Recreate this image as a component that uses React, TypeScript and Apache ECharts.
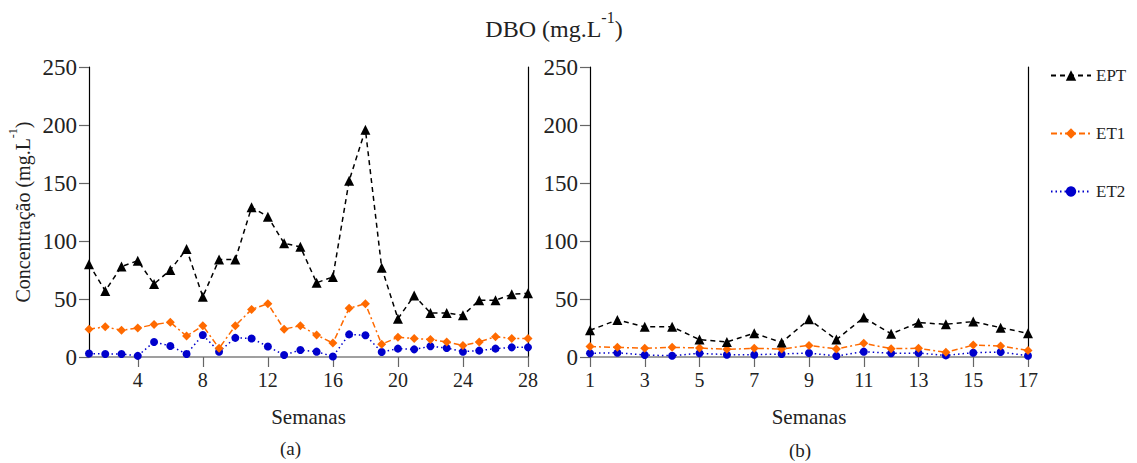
import React, { useEffect, useRef } from "react";
import * as echarts from "echarts";

const weeksA = Array.from({ length: 28 }, (_, i) => i + 1);
const weeksB = Array.from({ length: 17 }, (_, i) => i + 1);

const eptA = [80, 57, 78, 83, 63, 75, 93, 52, 84, 84, 129, 121, 98, 95, 64, 69, 152, 196, 77, 33, 53, 38, 38, 36, 49, 49, 54, 55];
const et1A = [24, 26, 23, 25, 28, 30, 18, 27, 7.5, 27, 41, 46, 24, 27, 19, 12, 42, 46, 11, 17, 16, 15, 13, 10, 13, 17.5, 16, 16];
const et2A = [3, 2.6, 2.6, 1, 13, 9.5, 2.6, 19, 4.6, 16.5, 16, 9, 1.7, 6, 4.6, 0.5, 19.5, 18.7, 4.3, 7.2, 6.6, 9.2, 7.8, 4.6, 5.5, 7.2, 8.3, 8.3];

const eptB = [23, 32, 26, 26, 15, 13, 20.5, 12.5, 32.5, 15, 34, 20, 29.6, 28.2, 30.5, 25.3, 20.4];
const et1B = [9, 8.3, 7.5, 8.3, 7.8, 6.6, 7.5, 6.9, 10, 6.9, 11.8, 7.2, 7.5, 4, 10.3, 9.5, 5.7];
const et2B = [3.2, 3.7, 1.7, 1.1, 3.2, 2, 2, 2.6, 3.4, 0.9, 4.6, 3.2, 3.4, 1.4, 3.7, 4.3, 1.1];

const xTicksA = [4, 8, 12, 16, 20, 24, 28];
const yMax = 250;
const yStep = 50;

const FONT = "Liberation Serif";

export default function App() {
  const ref = useRef<HTMLDivElement>(null);
  useEffect(() => {
    const chart = echarts.init(ref.current!, null, { renderer: "svg" });
    const styles = {
      EPT: { color: "#000000", symbol: "triangle", symbolSize: 10, dash: [5, 4] },
      ET1: { color: "#ff6a00", symbol: "diamond", symbolSize: 9, dash: [6, 3, 2, 3] },
      ET2: { color: "#0000cc", symbol: "circle", symbolSize: 8, dash: [1.5, 3] },
    } as any;
    const mk = (name: string, xs: number[], ys: number[], idx: number) => ({
      name,
      type: "line",
      xAxisIndex: idx,
      yAxisIndex: idx * 2,
      data: xs.map((x, i) => [x, ys[i]]),
      symbol: styles[name].symbol,
      symbolSize: styles[name].symbolSize,
      itemStyle: { color: styles[name].color },
      lineStyle: { color: styles[name].color, width: 1.5, type: styles[name].dash },
      z: name === "EPT" ? 5 : name === "ET1" ? 4 : 3,
    });
    const yAxisBase = (gi: number) => ({
      type: "value",
      gridIndex: gi,
      min: 0,
      max: yMax,
      interval: yStep,
      axisLine: { show: true, lineStyle: { color: "#000", width: 1.2 } },
      axisTick: { show: true, length: 10, lineStyle: { color: "#666", width: 1.2 } },
      axisLabel: { fontFamily: FONT, fontSize: 23, color: "#222", margin: 12 },
      splitLine: { show: false },
    });
    const yRight = (gi: number) => ({
      type: "value",
      gridIndex: gi,
      position: "right",
      min: 0,
      max: yMax,
      interval: yStep,
      axisLine: { show: true, lineStyle: { color: "#000", width: 1.2 } },
      axisTick: { show: false },
      axisLabel: { show: false },
      splitLine: { show: false },
    });
    const xName = {
      name: "Semanas",
      nameLocation: "middle",
      nameGap: 49,
      nameTextStyle: { fontFamily: FONT, fontSize: 21, color: "#222" },
    };
    chart.setOption({
      animation: false,
      backgroundColor: "#fff",
      title: {
        text: "{a|DBO (mg.L}{s|-1}{a|)}",
        left: 549,
        textAlign: "center",
        top: 4,
        textStyle: {
          fontWeight: "normal",
          rich: {
            a: { fontFamily: FONT, fontSize: 24, fontWeight: "normal", color: "#222", verticalAlign: "bottom", lineHeight: 32 },
            s: { fontFamily: FONT, fontSize: 16, fontWeight: "normal", color: "#222", verticalAlign: "top", lineHeight: 32, padding: [0, 0, 13, 0] },
          },
        },
      },
      legend: {
        orient: "vertical",
        left: 1045,
        top: 62,
        itemGap: 41,
        itemWidth: 40,
        itemHeight: 13,
        data: ["EPT", "ET1", "ET2"],
        textStyle: { fontFamily: FONT, fontSize: 17, color: "#222" },
      },
      grid: [
        { left: 89, top: 67, width: 439, height: 290 },
        { left: 590, top: 67, width: 438, height: 290 },
      ],
      xAxis: [
        {
          type: "value",
          gridIndex: 0,
          min: 1,
          max: 28,
          ...xName,
          axisLine: { show: true, lineStyle: { color: "#808080", width: 1.5 } },
          axisTick: { show: true, length: 10, customValues: xTicksA, lineStyle: { color: "#666", width: 1.2 } },
          axisLabel: { customValues: xTicksA, fontFamily: FONT, fontSize: 20, color: "#222", margin: 13 },
          splitLine: { show: false },
        },
        {
          type: "value",
          gridIndex: 1,
          min: 1,
          max: 17,
          interval: 2,
          ...xName,
          axisLine: { show: true, lineStyle: { color: "#808080", width: 1.5 } },
          axisTick: { show: true, length: 10, lineStyle: { color: "#666", width: 1.2 } },
          axisLabel: { fontFamily: FONT, fontSize: 20, color: "#222", margin: 13 },
          splitLine: { show: false },
        },
      ],
      yAxis: [
        {
          ...yAxisBase(0),
          name: "{a|Concentração (mg.L}{s|-1}{a|)}",
          nameLocation: "middle",
          nameGap: 56,
          nameTextStyle: {
            rich: {
              a: { fontFamily: FONT, fontSize: 20, color: "#222", verticalAlign: "bottom", lineHeight: 26 },
              s: { fontFamily: FONT, fontSize: 12, color: "#222", verticalAlign: "top", lineHeight: 26, padding: [0, 0, 11, 0] },
            },
          },
        },
        yRight(0),
        yAxisBase(1),
        yRight(1),
      ],
      graphic: [
        { type: "text", left: 280, top: 439, style: { text: "(a)", fontFamily: FONT, fontSize: 19, fill: "#222" } },
        { type: "text", left: 789, top: 441, style: { text: "(b)", fontFamily: FONT, fontSize: 19, fill: "#222" } },
      ],
      series: [
        mk("EPT", weeksA, eptA, 0),
        mk("ET1", weeksA, et1A, 0),
        mk("ET2", weeksA, et2A, 0),
        mk("EPT", weeksB, eptB, 1),
        mk("ET1", weeksB, et1B, 1),
        mk("ET2", weeksB, et2B, 1),
      ],
    });
    return () => chart.dispose();
  }, []);
  return (
    <div
      ref={ref}
      style={{ position: "fixed", left: 0, top: 0, width: 1137, height: 463, background: "#fff" }}
    />
  );
}
